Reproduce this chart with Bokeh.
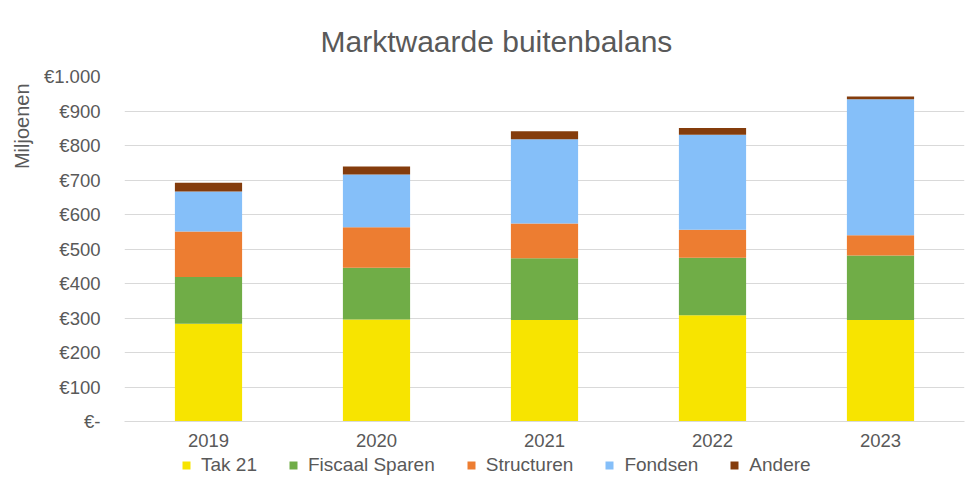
from bokeh.plotting import figure
from bokeh.layouts import column
from bokeh.models import Range1d, FactorRange, FixedTicker, Legend, Title, ColumnDataSource
from bokeh.embed import file_html
from bokeh.resources import INLINE

years = ["2019", "2020", "2021", "2022", "2023"]
tak21 = [283, 296, 294, 308, 294]
fiscaal = [136, 150, 179, 167, 187]
structuren = [132, 117, 101, 81, 59]
fondsen = [116, 153, 244, 275, 394]
andere = [25, 23, 23, 20, 8]
series_keys = ["tak21", "fiscaal", "structuren", "fondsen", "andere"]
series_names = ["Tak 21", "Fiscaal Sparen", "Structuren", "Fondsen", "Andere"]
colors = ["#F7E400", "#70AD47", "#ED7D31", "#85BFF9", "#843C0C"]
y_ticks = [0, 100, 200, 300, 400, 500, 600, 700, 800, 900, 1000]
y_tick_labels = ["€-", "€100", "€200", "€300", "€400", "€500", "€600", "€700", "€800", "€900", "€1.000"]
title_text = "Marktwaarde buitenbalans"
y_title = "Miljoenen"

FONT = "Liberation Sans"
GRAY = "#595959"

source = ColumnDataSource(dict(years=years, tak21=tak21, fiscaal=fiscaal,
                               structuren=structuren, fondsen=fondsen, andere=andere))

p = figure(width=974, height=455, x_range=FactorRange(*years, range_padding=0),
           y_range=Range1d(0, 1000), output_backend="svg", toolbar_location=None,
           title=title_text, min_border_left=124, min_border_right=10,
           min_border_top=76, min_border_bottom=34)
p.outline_line_color = None
p.background_fill_color = "white"
p.border_fill_color = "white"

p.vbar_stack(series_keys, x="years", width=0.4, color=colors, source=source,
             line_color=None)

# title
p.title.align = "left"
p.title.offset = 196
p.title.text_font = FONT
p.title.text_font_size = "30px"
p.title.text_color = GRAY
p.title.text_font_style = "normal"
p.title.standoff = 38

# y axis title, placed near the top of the axis
p.add_layout(Title(text=y_title, align="right", offset=7, text_font=FONT,
                   text_font_size="20px", text_color=GRAY, text_font_style="normal",
                   standoff=15), "left")

# axes
p.yaxis.ticker = FixedTicker(ticks=y_ticks)
p.yaxis.major_label_overrides = {t: l for t, l in zip(y_ticks, y_tick_labels)}
p.yaxis.axis_line_color = None
p.yaxis.major_tick_line_color = None
p.yaxis.minor_tick_line_color = None
p.yaxis.major_tick_in = 0
p.yaxis.major_tick_out = 0
p.yaxis.major_label_standoff = 24
p.yaxis.major_label_text_font = FONT
p.yaxis.major_label_text_font_size = "18.5px"
p.yaxis.major_label_text_color = GRAY

p.xaxis.axis_line_color = "#D9D9D9"
p.xaxis.major_tick_line_color = None
p.xaxis.minor_tick_line_color = None
p.xaxis.major_tick_in = 0
p.xaxis.major_tick_out = 0
p.xaxis.major_label_standoff = 12
p.xaxis.major_label_text_font = FONT
p.xaxis.major_label_text_font_size = "18.5px"
p.xaxis.major_label_text_color = GRAY

p.xgrid.grid_line_color = None
p.ygrid.grid_line_color = "#D9D9D9"
p.ygrid.grid_line_width = 1

# legend strip (separate figure so the legend sits inside a frame);
# its bar renderers lie outside its visible y range and only supply legend swatches
leg_fig = figure(width=974, height=37, x_range=FactorRange(*years), y_range=Range1d(2000, 2001),
                 output_backend="svg", toolbar_location=None, title=None,
                 x_axis_type=None, y_axis_type=None,
                 min_border_left=0, min_border_right=0, min_border_top=0, min_border_bottom=0)
leg_fig.outline_line_color = None
leg_fig.xgrid.visible = False
leg_fig.ygrid.visible = False
leg_renderers = leg_fig.vbar_stack(series_keys, x="years", width=0.4, color=colors,
                                   source=source, line_color=None)

lg = Legend(items=[(n, [r]) for n, r in zip(series_names, leg_renderers)])
lg.orientation = "horizontal"
lg.location = (57, 16)
lg.padding = 0
lg.margin = 0
lg.spacing = 31
lg.glyph_width = 10
lg.glyph_height = 10
lg.label_standoff = 10
lg.label_height = 18
lg.label_text_font = FONT
lg.label_text_font_size = "19px"
lg.label_text_color = GRAY
lg.label_text_baseline = "middle"
lg.border_line_color = None
lg.background_fill_alpha = 0
leg_fig.add_layout(lg, "center")

layout = column(p, leg_fig, spacing=0)
open("out.html", "w").write(file_html(layout, INLINE))
